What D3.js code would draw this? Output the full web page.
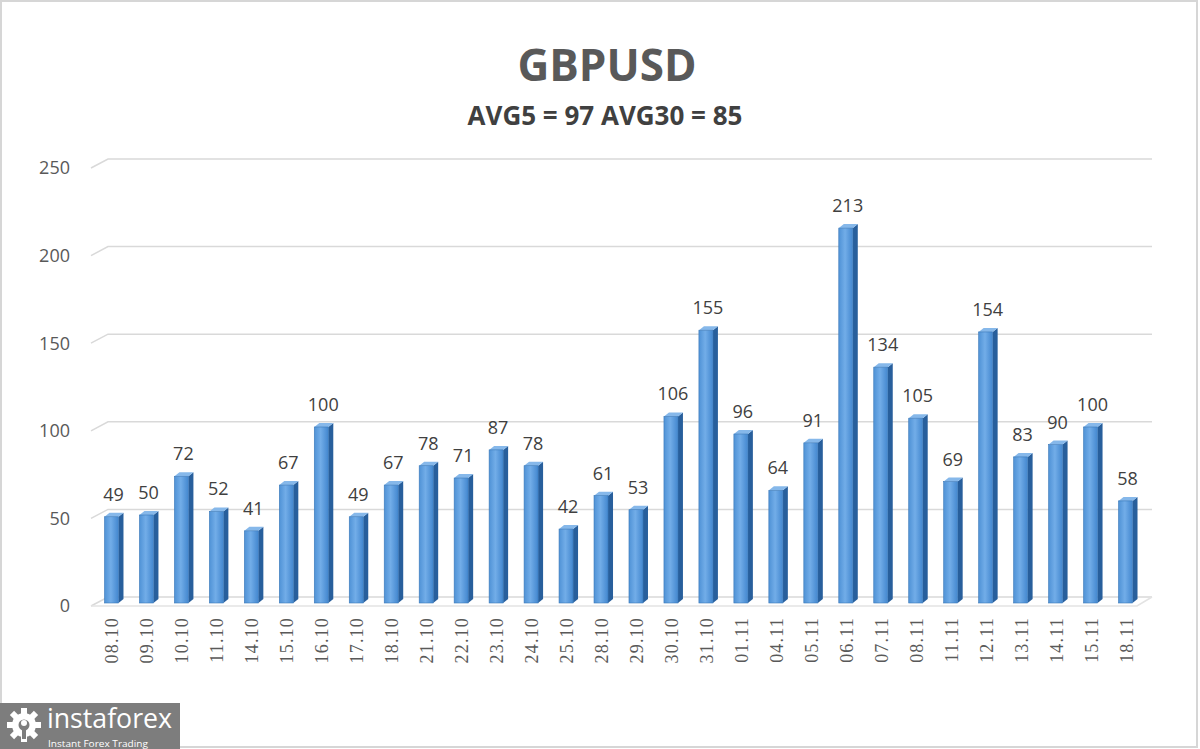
<!DOCTYPE html>
<html><head><meta charset="utf-8">
<script src="https://cdn.jsdelivr.net/npm/d3@7"></script>
<style>html,body{margin:0;padding:0;background:#fff;}svg{display:block;}</style>
</head><body>
<script>
const categories = ["08.10","09.10","10.10","11.10","14.10","15.10","16.10","17.10","18.10","21.10","22.10","23.10","24.10","25.10","28.10","29.10","30.10","31.10","01.11","04.11","05.11","06.11","07.11","08.11","11.11","12.11","13.11","14.11","15.11","18.11"];
const values = [49,50,72,52,41,67,100,49,67,78,71,87,78,42,61,53,106,155,96,64,91,213,134,105,69,154,83,90,100,58];
const yTicks = [0,50,100,150,200,250];
const title = "GBPUSD";
const subtitle = "AVG5 = 97 AVG30 = 85";

const W = 1200, H = 749;
const svg = d3.select("body").append("svg").attr("width", W).attr("height", H);
svg.append("rect").attr("x",0).attr("y",0).attr("width",W).attr("height",H).attr("fill","#fff");
svg.append("rect").attr("x",1).attr("y",1).attr("width",W-4).attr("height",H-3)
  .attr("fill","none").attr("stroke","#d6d6d6").attr("stroke-width",2);

const defs = svg.append("defs");
const g1 = defs.append("linearGradient").attr("id","front").attr("x1","0").attr("x2","1").attr("y1","0").attr("y2","0");
g1.append("stop").attr("offset","0%").attr("stop-color","#4f92d6");
g1.append("stop").attr("offset","45%").attr("stop-color","#72ade8");
g1.append("stop").attr("offset","100%").attr("stop-color","#4387cf");

// scales
const x = d3.scalePoint().domain(categories).range([94, 1143]).padding(0.5);
const yBar = d3.scaleLinear().domain([0,250]).range([603,163]);
const yBack = d3.scaleLinear().domain([0,250]).range([597,159]);
const yFront = d3.scaleLinear().domain([0,250]).range([606,168]);
const backX0 = 108, backX1 = 1152, frontX0 = 91, frontX1 = 1137;

// gridlines
const grid = svg.append("g");
yTicks.forEach(t => {
  grid.append("path")
    .attr("d", `M${frontX0},${yFront(t)} L${backX0},${yBack(t)} L${backX1},${yBack(t)}`)
    .attr("fill","none").attr("stroke","#d9d9d9").attr("stroke-width",1.5);
});
// floor front edge
grid.append("path")
  .attr("d", `M${frontX0},${yFront(0)} L${frontX1},${yFront(0)} L${backX1},${yBack(0)}`)
  .attr("fill","none").attr("stroke","#e3e3e3").attr("stroke-width",1.5);

// y labels
svg.append("g").selectAll("text").data(yTicks).join("text")
  .attr("x", 70).attr("y", d => yFront(d)).attr("dy","0.35em")
  .attr("text-anchor","end")
  .attr("font-family","'Open Sans', sans-serif").attr("font-size",18)
  .attr("fill","#595959").text(d => d);

// bars
const bars = svg.append("g").selectAll("g").data(values.map((v,i)=>({c:categories[i], v}))).join("g");
const fw = 14, dx = 5, dy = 4;
bars.each(function(d){
  const g = d3.select(this);
  const c = x(d.c), top = yBar(d.v), bot = yBar(0);
  const l = c - 7, r = l + fw;
  g.append("path").attr("d", `M${r},${top} L${r+dx},${top-dy} L${r+dx},${bot-dy} L${r},${bot} Z`)
    .attr("fill","#285f9c");
  g.append("path").attr("d", `M${l},${top} L${l+dx},${top-dy} L${r+dx},${top-dy} L${r},${top} Z`)
    .attr("fill","#86b8ea");
  g.append("rect").attr("x", l).attr("y", top).attr("width", fw).attr("height", bot-top)
    .attr("fill","url(#front)").attr("stroke","#3a78b8").attr("stroke-width",0.6);
});

// value labels
svg.append("g").selectAll("text").data(values).join("text")
  .attr("x", (d,i) => x(categories[i]) + 2)
  .attr("y", d => yBar(d) - 16)
  .attr("text-anchor","middle")
  .attr("font-family","'Open Sans', sans-serif").attr("font-size",18)
  .attr("fill","#404040").text(d => d);

// x labels
svg.append("g").selectAll("text").data(categories).join("text")
  .attr("transform", d => `translate(${x(d)+7},617) rotate(-90)`)
  .attr("text-anchor","end")
  .attr("font-family","'Liberation Serif', serif").attr("font-size",18)
  .attr("letter-spacing","1.2px")
  .attr("fill","#595959").text(d => d);

// titles
svg.append("text").attr("x",607).attr("y",81).attr("text-anchor","middle")
  .attr("font-family","'Open Sans', sans-serif").attr("font-weight","bold").attr("font-size",44)
  .attr("fill","#595959").text(title);
svg.append("text").attr("x",605).attr("y",125).attr("text-anchor","middle")
  .attr("font-family","'Open Sans', sans-serif").attr("font-weight","bold").attr("font-size",26)
  .attr("fill","#404040").text(subtitle);

// logo
const logo = svg.append("g");
logo.append("rect").attr("x",0).attr("y",703).attr("width",180).attr("height",46).attr("fill","#7d7d7d");
const gear = logo.append("g").attr("transform","translate(24,725)");
for (let k=0;k<8;k++){
  gear.append("rect").attr("x",-3).attr("y",-17).attr("width",6).attr("height",8)
    .attr("fill","#fff").attr("transform",`rotate(${k*45})`);
}
gear.append("circle").attr("r",12).attr("fill","#fff");
gear.append("circle").attr("r",5.5).attr("fill","#7d7d7d");
gear.append("circle").attr("cy",-2).attr("r",3).attr("fill","#fff");
gear.append("rect").attr("x",-2).attr("y",2).attr("width",4).attr("height",12).attr("fill","#7d7d7d");
logo.append("text").attr("x",47).attr("y",728)
  .attr("font-family","'Open Sans', sans-serif").attr("font-size",27)
  .attr("textLength",125).attr("lengthAdjust","spacingAndGlyphs")
  .attr("fill","#fff").text("instaforex");
logo.append("text").attr("x",48).attr("y",747)
  .attr("font-family","'Open Sans', sans-serif").attr("font-size",9.5)
  .attr("textLength",100).attr("lengthAdjust","spacingAndGlyphs")
  .attr("fill","#fff").text("Instant Forex Trading");
</script>
</body></html>
